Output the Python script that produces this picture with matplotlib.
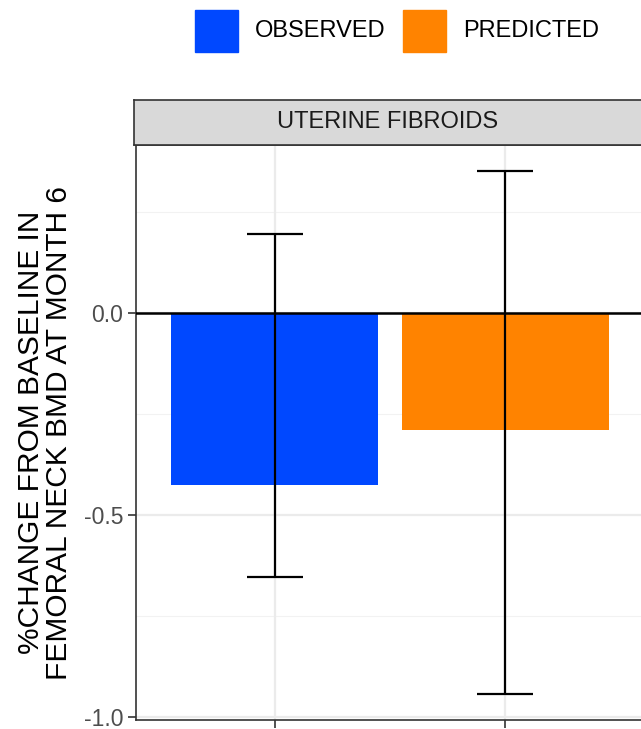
import matplotlib
matplotlib.use("Agg")
import matplotlib.pyplot as plt
from matplotlib.patches import Rectangle
import numpy as np

# valeurs lues : % de changement de la DMO au col du fémur à 6 mois
groupes = ["OBSERVED", "PREDICTED"]
moyenne = [-0.427, -0.291]
borne_inf = [-0.654, -0.943]
borne_sup = [0.195, 0.351]
couleurs = ["#0048FF", "#FF8300"]
facette = "UTERINE FIBROIDS"
yticks = [-1.0, -0.5, 0.0]

plt.rcParams['font.family'] = ['Liberation Sans', 'DejaVu Sans']

W, H = 641, 729
fig = plt.figure(figsize=(W/100, H/100), dpi=100)

# panneau (coupé à droite et en bas)
x0, x1 = 136, 644
ytop, ybot = 145, 720
ax = fig.add_axes([x0/W, 1 - ybot/H, (x1 - x0)/W, (ybot - ytop)/H])

x = np.arange(1, len(groupes) + 1)
ax.set_xlim(0.4, 2.6)
ymin = min(borne_inf); ymax = max(borne_sup)
pad = 0.05*(ymax - ymin)
ax.set_ylim(ymin - pad, ymax + pad)

# grille façon theme_bw
for v in [0.25, -0.25, -0.75]:
    ax.axhline(v, color="#F2F2F2", lw=0.8, zorder=0)
for v in yticks:
    ax.axhline(v, color="#EBEBEB", lw=1.6, zorder=0)
for v in x:
    ax.axvline(v, color="#EBEBEB", lw=1.6, zorder=0)

ax.bar(x, moyenne, width=0.9, color=couleurs, zorder=2)
ax.axhline(0, color="black", lw=1.8, zorder=3)

yerr = [np.array(moyenne) - np.array(borne_inf), np.array(borne_sup) - np.array(moyenne)]
ax.errorbar(x, moyenne, yerr=yerr, fmt="none", ecolor="black", elinewidth=1.6,
            capsize=20.5, capthick=1.6, zorder=4)

ax.set_xticks(x)
ax.set_xticklabels([])
ax.set_yticks(yticks)
ax.set_yticklabels(["-1.0", "-0.5", "0.0"])
ax.tick_params(axis="y", colors="#333333", labelcolor="#4D4D4D", labelsize=16.5,
               length=6, width=1.2, pad=3)
ax.tick_params(axis="x", colors="#333333", length=6, width=1.2)
for s in ax.spines.values():
    s.set_color("#333333")
    s.set_linewidth(1.2)

ax.set_ylabel("%CHANGE FROM BASELINE IN\nFEMORAL NECK BMD AT MONTH 6",
              fontsize=21.5, color="black", labelpad=8, linespacing=1.0)

# bandeau de facette
strip = fig.add_axes([134/W, 1 - ytop/H, (x1 - 134)/W, 45/H])
strip.set_xticks([]); strip.set_yticks([])
strip.set_facecolor("#D9D9D9")
for s in strip.spines.values():
    s.set_color("#333333")
    s.set_linewidth(1.2)
strip.text(0.5*(641 - 134)/(x1 - 134), 0.5, facette, ha="center", va="center",
           fontsize=17, color="#1A1A1A", transform=strip.transAxes)

# légende en haut
leg = [(195, "OBSERVED", couleurs[0]), (403, "PREDICTED", couleurs[1])]
for px, lab, c in leg:
    fig.patches.append(Rectangle((px/W, 1 - 52/H), 43/W, 42/H, color=c,
                                 transform=fig.transFigure))
    fig.text((px + 60)/W, 1 - 31/H, lab, ha="left", va="center", fontsize=17,
             color="black")

fig.savefig("out.png", dpi=100)
